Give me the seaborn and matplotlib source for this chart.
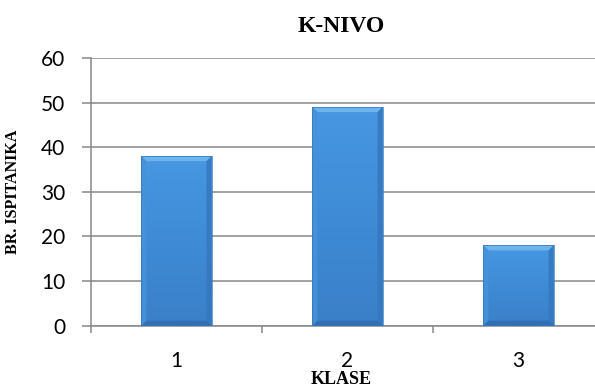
import numpy as np
import pandas as pd
import matplotlib
matplotlib.use("Agg")
import matplotlib.pyplot as plt
from matplotlib.patches import Polygon
from matplotlib.colors import LinearSegmentedColormap
import seaborn as sns

# Data
klase = ["1", "2", "3"]
broj_ispitanika = [38, 49, 18]
y_ticks = [0, 10, 20, 30, 40, 50, 60]

df = pd.DataFrame({"klasa": klase, "broj": broj_ispitanika})

sns.set_theme(style="white")
plt.rcParams["font.family"] = ["Lato", "DejaVu Sans"]

W, H, DPI = 595, 387, 100
fig = plt.figure(figsize=(W / DPI, H / DPI), dpi=DPI)
ax = fig.add_axes([91 / W, 1 - 325.7 / H, (604 - 91) / W, (325.7 - 58) / H])

grid_col = "#878787"
base_col = "#3e8cd8"

sns.barplot(data=df, x="klasa", y="broj", color=base_col, width=0.41,
            saturation=1, ax=ax, zorder=3, edgecolor="none", linewidth=0)

ax.set_xlim(-0.5, len(klase) - 0.5)
ax.set_ylim(0, 60)
ax.set_yticks(y_ticks)
ax.yaxis.grid(True, color=grid_col, linewidth=1.1, zorder=0)
ax.set_axisbelow(True)

for side in ["top", "right"]:
    ax.spines[side].set_visible(False)
for side in ["left", "bottom"]:
    ax.spines[side].set_color(grid_col)
    ax.spines[side].set_linewidth(1.1)

ax.tick_params(axis="y", which="major", length=6.5, width=1.1, color=grid_col,
               direction="out", pad=12, labelsize=15, labelcolor="black", left=True)
ax.set_xticks(range(len(klase)))
ax.set_xticklabels(klase)
ax.tick_params(axis="x", which="major", length=0, pad=18, labelsize=15, labelcolor="black")
ax.set_xticks(np.arange(-0.5, len(klase) + 0.5, 1.0), minor=True)
ax.tick_params(axis="x", which="minor", length=5, width=1.1, color=grid_col,
               direction="out", bottom=True)

ax.set_xlabel("KLASE", family=["Liberation Serif"], fontweight="bold",
              fontsize=13, color="black")
ax.set_ylabel("BR. ISPITANIKA", family=["Liberation Serif"], fontweight="bold",
              fontsize=11.5, color="black")
ax.yaxis.set_label_coords(-(91 - 21) / (604 - 91), 0.5)
ax.xaxis.set_label_coords((341 - 91) / (604 - 91), -(371 - 325.7) / (325.7 - 58))

fig.text(341 / W, 1 - 27 / H, "K-NIVO", family=["Liberation Serif"], fontweight="bold",
         fontsize=17, ha="center", va="center", color="black")

# Beveled, shaded look for each bar
fig.canvas.draw()
body_cmap = LinearSegmentedColormap.from_list("body", ["#3a80c8", "#3f8bd6", "#4797e2"])
to_data = ax.transData.inverted()
for p in ax.patches:
    x0, y0 = p.get_x(), p.get_y()
    w, h = p.get_width(), p.get_height()
    x1, y1 = x0 + w, y0 + h
    # bevel size of ~5 px expressed in data units
    (dx0, dy0) = to_data.transform((0, 0))
    (dx1, dy1) = to_data.transform((5, 5))
    bx, by = dx1 - dx0, dy1 - dy0
    grad = np.linspace(0, 1, 64).reshape(-1, 1)
    ax.imshow(grad, extent=(x0, x1, y0, y1), origin="lower", cmap=body_cmap,
              aspect="auto", zorder=3.1, interpolation="bilinear")
    # top bevel (light)
    ax.add_patch(Polygon([(x0, y1), (x1, y1), (x1 - bx, y1 - by), (x0 + bx, y1 - by)],
                         closed=True, facecolor="#6cb4ec", edgecolor="none", zorder=3.2))
    # left bevel
    ax.add_patch(Polygon([(x0, y0), (x0, y1), (x0 + bx, y1 - by), (x0 + bx, y0 + by)],
                         closed=True, facecolor="#4592da", edgecolor="none", zorder=3.2,
                         alpha=0.9))
    # right bevel
    ax.add_patch(Polygon([(x1, y0), (x1, y1), (x1 - bx, y1 - by), (x1 - bx, y0 + by)],
                         closed=True, facecolor="#3579c0", edgecolor="none", zorder=3.2,
                         alpha=0.9))
    # bottom bevel (dark)
    ax.add_patch(Polygon([(x0, y0), (x1, y0), (x1 - bx, y0 + by), (x0 + bx, y0 + by)],
                         closed=True, facecolor="#306fb2", edgecolor="none", zorder=3.2))
    # thin outline
    ax.add_patch(Polygon([(x0, y0), (x0, y1), (x1, y1), (x1, y0)], closed=True,
                         facecolor="none", edgecolor="#3676ba", linewidth=0.5, zorder=3.3))

ax.set_xlim(-0.5, len(klase) - 0.5)
ax.set_ylim(0, 60)

fig.savefig("out.png", dpi=DPI, facecolor="white")
